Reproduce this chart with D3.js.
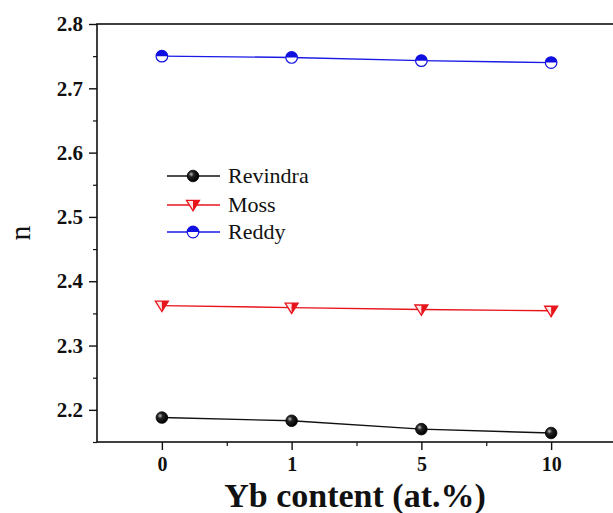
<!DOCTYPE html>
<html>
<head>
<meta charset="utf-8">
<script src="https://cdn.jsdelivr.net/npm/d3@7"></script>
<style>
  body { margin: 0; background: #fff; }
  svg { display: block; }
  text { font-family: "Liberation Serif", "Times New Roman", serif; }
</style>
</head>
<body>
<div id="chart"></div>
<script>
// ---- DATA ---------------------------------
var categories = ["0", "1", "5", "10"];
var revindra = [2.188, 2.183, 2.170, 2.164];
var moss = [2.362, 2.359, 2.356, 2.354];
var reddy = [2.750, 2.748, 2.743, 2.740];
var yTicks = [2.2, 2.3, 2.4, 2.5, 2.6, 2.7, 2.8];
var seriesNames = ["Revindra", "Moss", "Reddy"];

var W = 613, H = 513;
var plotLeft = 97, plotTop = 24, plotRight = 616, plotBottom = 442;

var svg = d3.select("#chart").append("svg")
    .attr("width", W)
    .attr("height", H);

var x = d3.scaleLinear().domain([-0.5, 3.5]).range([plotLeft, plotRight]);
var y = d3.scaleLinear().domain([2.15, 2.8]).range([plotBottom, plotTop]);

// frame
svg.append("rect")
    .attr("x", plotLeft).attr("y", plotTop)
    .attr("width", plotRight - plotLeft).attr("height", plotBottom - plotTop)
    .attr("fill", "none").attr("stroke", "#111").attr("stroke-width", 1.6);

// ---- axes ----
var yAxis = d3.axisLeft(y).tickValues(yTicks).tickFormat(d3.format(".1f")).tickSize(8).tickSizeOuter(0);
var gy = svg.append("g").attr("transform", "translate(" + plotLeft + ",0)").call(yAxis);
gy.select(".domain").remove();
gy.selectAll("line").attr("stroke", "#111").attr("stroke-width", 1.4);
gy.selectAll("text").attr("font-size", 21).attr("font-weight", "bold").attr("fill", "#111")
    .attr("x", -14).attr("font-family", "Liberation Serif");

var yMinor = d3.range(2.15, 2.8, 0.1);
var gyMinor = svg.append("g").attr("transform", "translate(" + plotLeft + ",0)")
    .call(d3.axisLeft(y).tickValues(yMinor).tickFormat("").tickSize(4).tickSizeOuter(0));
gyMinor.select(".domain").remove();
gyMinor.selectAll("line").attr("stroke", "#111").attr("stroke-width", 1.2);

var xAxis = d3.axisBottom(x).tickValues(d3.range(categories.length))
    .tickFormat(function (i) { return categories[i]; }).tickSize(8).tickSizeOuter(0);
var gx = svg.append("g").attr("transform", "translate(0," + plotBottom + ")").call(xAxis);
gx.select(".domain").remove();
gx.selectAll("line").attr("stroke", "#111").attr("stroke-width", 1.4);
gx.selectAll("text").attr("font-size", 20).attr("font-weight", "bold").attr("fill", "#111")
    .attr("y", 15).attr("font-family", "Liberation Serif");

var gxMinor = svg.append("g").attr("transform", "translate(0," + plotBottom + ")")
    .call(d3.axisBottom(x).tickValues([0.5, 1.5, 2.5]).tickFormat("").tickSize(4).tickSizeOuter(0));
gxMinor.select(".domain").remove();
gxMinor.selectAll("line").attr("stroke", "#111").attr("stroke-width", 1.2);

// axis titles
svg.append("text")
    .attr("x", 355).attr("y", 507)
    .attr("text-anchor", "middle")
    .attr("font-size", 34).attr("font-weight", "bold").attr("fill", "#111")
    .text("Yb content (at.%)");

svg.append("text")
    .attr("transform", "translate(30,233) rotate(-90)")
    .attr("text-anchor", "middle")
    .attr("font-size", 30).attr("fill", "#111")
    .text("n");

// ---- markers ----
var defs = svg.append("defs");
var grad = defs.append("radialGradient").attr("id", "ball")
    .attr("cx", "35%").attr("cy", "35%").attr("r", "65%");
grad.append("stop").attr("offset", "0%").attr("stop-color", "#bbb");
grad.append("stop").attr("offset", "35%").attr("stop-color", "#222");
grad.append("stop").attr("offset", "100%").attr("stop-color", "#000");

function drawMarker(g, name, cx, cy) {
    if (name == "Revindra") {
        g.append("circle").attr("cx", cx).attr("cy", cy).attr("r", 5.8)
            .attr("fill", "url(#ball)").attr("stroke", "#000").attr("stroke-width", 0.8);
    } else if (name == "Moss") {
        var s = 6.5;
        // left half pale, right half red
        g.append("path")
            .attr("d", "M" + (cx - s) + "," + (cy - s * 0.7) + "L" + cx + "," + (cy - s * 0.7) + "L" + cx + "," + (cy + s * 0.9) + "Z")
            .attr("fill", "#fde6e6");
        g.append("path")
            .attr("d", "M" + cx + "," + (cy - s * 0.7) + "L" + (cx + s) + "," + (cy - s * 0.7) + "L" + cx + "," + (cy + s * 0.9) + "Z")
            .attr("fill", "#e8141c");
        g.append("path")
            .attr("d", "M" + (cx - s) + "," + (cy - s * 0.7) + "L" + (cx + s) + "," + (cy - s * 0.7) + "L" + cx + "," + (cy + s * 0.9) + "Z")
            .attr("fill", "none").attr("stroke", "#e8141c").attr("stroke-width", 1.3);
    } else {
        var r = 5.8;
        g.append("circle").attr("cx", cx).attr("cy", cy).attr("r", r)
            .attr("fill", "#fff");
        g.append("path")
            .attr("d", "M" + (cx - r) + "," + cy + "A" + r + "," + r + " 0 0 1 " + (cx + r) + "," + cy + "Z")
            .attr("fill", "#1010e0");
        g.append("circle").attr("cx", cx).attr("cy", cy).attr("r", r)
            .attr("fill", "none").attr("stroke", "#1010e0").attr("stroke-width", 1.2);
    }
}

var series = [
    { name: "Revindra", values: revindra, color: "#111" },
    { name: "Moss", values: moss, color: "#e8141c" },
    { name: "Reddy", values: reddy, color: "#1a1ae6" }
];

var line = d3.line()
    .x(function (d, i) { return x(i); })
    .y(function (d) { return y(d); });

series.forEach(function (s) {
    var g = svg.append("g");
    g.append("path")
        .attr("d", line(s.values))
        .attr("fill", "none")
        .attr("stroke", s.color)
        .attr("stroke-width", 1.4);
    s.values.forEach(function (v, i) {
        drawMarker(g, s.name, x(i), y(v));
    });
});

// ---- legend ----
var legendY = [176, 205, 232];
series.forEach(function (s, i) {
    var g = svg.append("g");
    g.append("line")
        .attr("x1", 167).attr("x2", 220)
        .attr("y1", legendY[i]).attr("y2", legendY[i])
        .attr("stroke", s.color).attr("stroke-width", 1.4);
    drawMarker(g, s.name, 193, legendY[i]);
    g.append("text")
        .attr("x", 228).attr("y", legendY[i] + 7)
        .attr("font-size", 22).attr("fill", "#111")
        .text(seriesNames[i]);
});
</script>
</body>
</html>
